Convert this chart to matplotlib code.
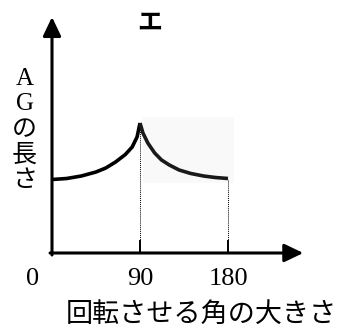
import matplotlib.pyplot as plt
from matplotlib.patches import Rectangle

# データ
x_up = [0, 15, 30, 45, 55, 65, 75, 82, 87, 90]
y_up = [73.5, 74.5, 77, 81, 85, 91, 98.5, 106, 116, 130]
x_down = [90, 93, 98, 105, 112, 120, 130, 142, 155, 167, 180]
y_down = [130, 120, 110, 100, 93, 88, 83, 79.5, 77, 75.5, 74.5]
ticks = [90, 180]
tick_labels = ['90', '180']
y_chars = ['A', 'G', 'の', '長', 'さ']

serif_jp = ['Liberation Serif', 'Noto Sans CJK JP']

fig = plt.figure(figsize=(3.42, 3.29), dpi=100)
ax = fig.add_axes([0, 0, 1, 1])
# 1単位 = 約1ピクセルになるように範囲を設定
ax.set_xlim(-52 * 90 / 88, (342 - 52) * 90 / 88)
ax.set_ylim(-76, 253)
ax.axis('off')

# 右側の画像の薄い背景
ax.add_patch(Rectangle((93, 70), 93, 66, color='#f9f9f9', lw=0, zorder=0))

# 軸(矢印)
arrow = dict(arrowstyle='-|>,head_length=1.15,head_width=0.55', lw=2.2,
             color='black', mutation_scale=10, shrinkA=0, shrinkB=0)
ax.annotate('', xy=(0, 236), xytext=(0, -2), arrowprops=arrow)
ax.annotate('', xy=(257, 0), xytext=(-2, 0), arrowprops=arrow)

# 曲線
ax.plot(x_up, y_up, color='black', lw=2.6, solid_capstyle='butt', zorder=3)
ax.plot(x_down, y_down, color='#1a1a1a', lw=2.6, solid_capstyle='butt', zorder=3)

# 補助線と目盛り
for t, yv in zip(ticks, [y_up[-1], y_down[-1]]):
    ax.plot([t, t], [0, yv], color='black', lw=0.7, ls=(0, (1, 1)), zorder=2)
    ax.plot([t, t], [0, 12], color='black', lw=1.4, zorder=2)

# 目盛りラベル
ax.text(-20, -26, '0', fontsize=19, family=serif_jp, ha='center', va='center')
for t, lab in zip(ticks, tick_labels):
    ax.text(t, -26, lab, fontsize=19, family=serif_jp, ha='center', va='center')

# 軸ラベル
ax.text(153, 253 - 315, '回転させる角の大きさ', fontsize=19.5, family=serif_jp,
        ha='center', va='center')
for i, ch in enumerate(y_chars):
    ax.text(-28, 253 - 79 - i * 25.5, ch, fontsize=18, family=serif_jp,
            ha='center', va='center')

# タイトル
ax.text(100, 253 - 23, 'エ', fontsize=18, family='Noto Sans CJK JP',
        fontweight='bold', ha='center', va='center')

fig.savefig('out.png', dpi=100)
